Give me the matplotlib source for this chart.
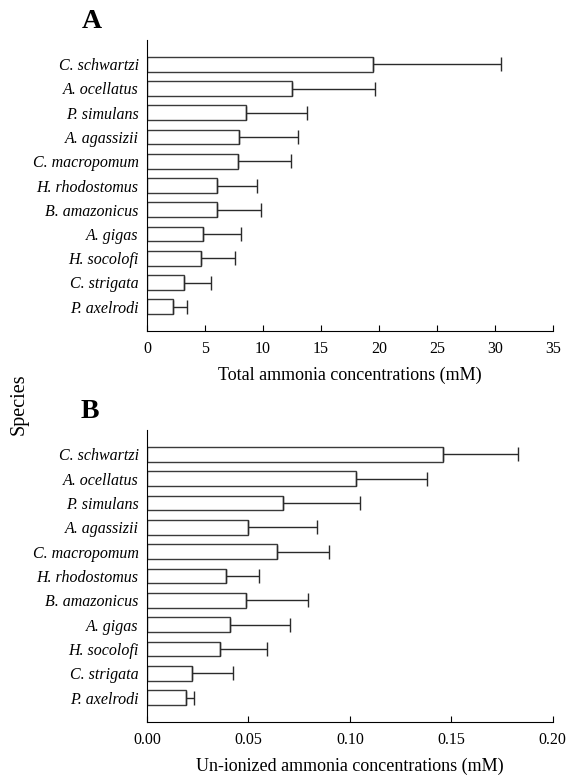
import numpy as np
import matplotlib.pyplot as plt

plt.rcParams['font.family'] = ['Liberation Serif', 'DejaVu Serif']

# =============================================================================
# Data
# =============================================================================
species = ['C. schwartzi', 'A. ocellatus', 'P. simulans', 'A. agassizii',
           'C. macropomum', 'H. rhodostomus', 'B. amazonicus', 'A. gigas',
           'H. socolofi', 'C. strigata', 'P. axelrodi']

# Total ammonia (mM): mean and upper error-bar end
total_mean = [19.5, 12.5, 8.5, 7.9, 7.85, 6.0, 6.0, 4.85, 4.65, 3.15, 2.25]
total_top = [30.5, 19.7, 13.8, 13.0, 12.4, 9.5, 9.8, 8.1, 7.55, 5.5, 3.45]

# Un-ionized ammonia (mM): mean and upper error-bar end
union_mean = [0.146, 0.103, 0.067, 0.050, 0.064, 0.039, 0.049, 0.041, 0.036, 0.022, 0.019]
union_top = [0.183, 0.138, 0.105, 0.084, 0.0895, 0.055, 0.0795, 0.0705, 0.059, 0.0425, 0.023]

# =============================================================================
# Plot
# =============================================================================
fig = plt.figure(figsize=(5.7, 7.78), dpi=100)
W, H = 570., 778.
axA = fig.add_axes([147/W, 1 - 331/H, (552.7-147)/W, (331-40)/H])
axB = fig.add_axes([147/W, 1 - 722/H, (552.7-147)/W, (722-430)/H])

def panel(ax, mean, top, xmax, ticks, fmt, xlabel):
    y = np.arange(len(species))
    err = np.array(top) - np.array(mean)
    ax.barh(y, mean, height=0.6, color='white', edgecolor='#3a3a3a', linewidth=1.0)
    ax.errorbar(mean, y, xerr=[np.zeros_like(err), err], fmt='none',
                ecolor='#2a2a2a', elinewidth=1.0, capsize=5, capthick=1.0)
    ax.set_xlim(0, xmax)
    ax.set_ylim(len(species), -1)
    ax.set_yticks(y)
    ax.set_yticklabels(species, style='italic', fontsize=11.5)
    ax.tick_params(axis='y', length=0, pad=6)
    ax.set_xticks(ticks)
    ax.set_xticklabels([fmt.format(t) for t in ticks], fontsize=11.5)
    ax.tick_params(axis='x', direction='in', length=4, pad=7)
    ax.spines['top'].set_visible(False)
    ax.spines['right'].set_visible(False)
    ax.set_xlabel(xlabel, fontsize=13, labelpad=7)

panel(axA, total_mean, total_top, 35, [0, 5, 10, 15, 20, 25, 30, 35], '{:g}',
      'Total ammonia concentrations (mM)')
panel(axB, union_mean, union_top, 0.2, [0, 0.05, 0.1, 0.15, 0.2], '{:.2f}',
      'Un-ionized ammonia concentrations (mM)')

fig.text(92/W, 1 - 22/H, 'A', fontsize=20, fontweight='bold', ha='center', va='center')
fig.text(90/W, 1 - 412/H, 'B', fontsize=20, fontweight='bold', ha='center', va='center')
fig.text(19/W, 1 - 404/H, 'Species', fontsize=14.5, rotation=90, ha='center', va='center')

plt.savefig('out.png', dpi=100)
